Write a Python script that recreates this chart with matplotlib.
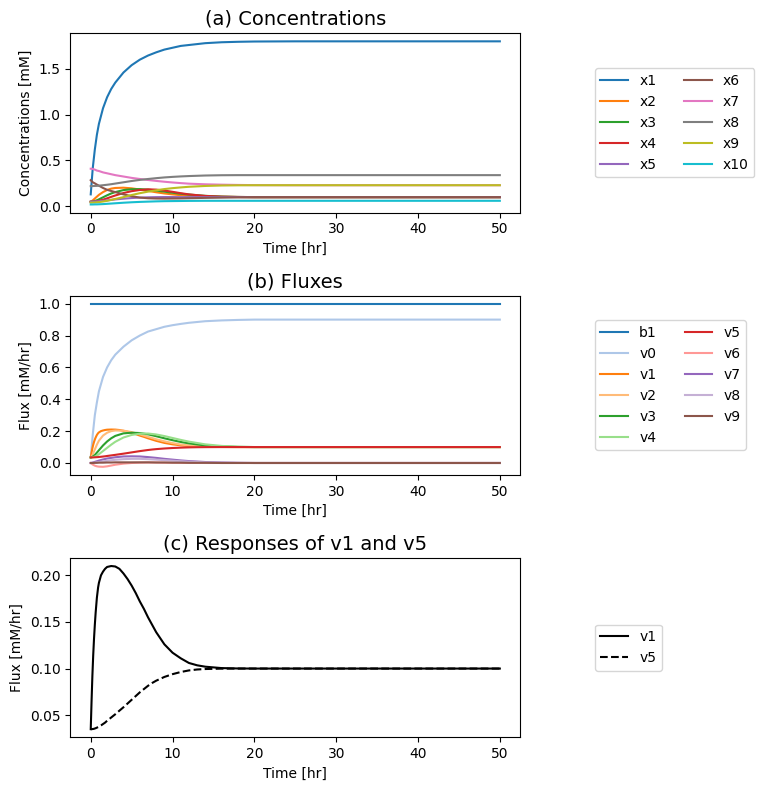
import numpy as np
from matplotlib import pyplot as plt

# sample times [hr]
t = [0, 0.1, 0.25, 0.5, 0.75, 1, 1.5, 2, 2.5, 3, 4, 5, 6, 7, 8, 9, 10, 11, 12, 14, 16, 18, 20, 25, 30, 40, 50]
# finer sampling used for v1 and v5
t_fine = [0, 0.05, 0.1, 0.2, 0.3, 0.4, 0.5, 0.6, 0.75, 0.9, 1, 1.25, 1.5, 1.75, 2, 2.5, 3, 3.5, 4, 4.5, 5, 5.5,
          6, 6.5, 7, 7.5, 8, 9, 10, 11, 12, 13, 14, 16, 18, 20, 25, 30, 40, 50]

# concentrations [mM]
x1 = [0.13, 0.25, 0.42, 0.62, 0.78, 0.90, 1.07, 1.19, 1.28, 1.35, 1.46, 1.54, 1.60, 1.645, 1.68, 1.71, 1.73, 1.75, 1.76, 1.78, 1.79, 1.795, 1.798, 1.8, 1.8, 1.8, 1.8]
x2 = [0.05, 0.055, 0.065, 0.085, 0.105, 0.125, 0.155, 0.178, 0.193, 0.2, 0.203, 0.196, 0.183, 0.168, 0.153, 0.14, 0.13, 0.121, 0.115, 0.107, 0.103, 0.101, 0.1, 0.1, 0.1, 0.1, 0.1]
x3 = [0.05, 0.05, 0.052, 0.058, 0.066, 0.076, 0.098, 0.12, 0.14, 0.155, 0.177, 0.186, 0.187, 0.182, 0.172, 0.16, 0.148, 0.137, 0.128, 0.114, 0.106, 0.102, 0.1, 0.1, 0.1, 0.1, 0.1]
x4 = [0.05, 0.05, 0.05, 0.052, 0.055, 0.06, 0.072, 0.087, 0.103, 0.118, 0.145, 0.165, 0.178, 0.185, 0.182, 0.172, 0.158, 0.143, 0.13, 0.113, 0.105, 0.102, 0.1, 0.1, 0.1, 0.1, 0.1]
x5 = [0.05, 0.05, 0.051, 0.052, 0.053, 0.055, 0.06, 0.065, 0.07, 0.075, 0.083, 0.09, 0.095, 0.098, 0.1, 0.101, 0.101, 0.1, 0.1, 0.1, 0.1, 0.1, 0.1, 0.1, 0.1, 0.1, 0.1]
x6 = [0.285, 0.275, 0.262, 0.25, 0.237, 0.225, 0.2, 0.18, 0.167, 0.155, 0.13, 0.11, 0.095, 0.088, 0.085, 0.084, 0.085, 0.086, 0.088, 0.092, 0.095, 0.098, 0.1, 0.1, 0.1, 0.1, 0.1]
x7 = [0.41, 0.41, 0.407, 0.40, 0.39, 0.385, 0.37, 0.36, 0.35, 0.34, 0.325, 0.31, 0.298, 0.287, 0.277, 0.268, 0.26, 0.253, 0.247, 0.24, 0.236, 0.233, 0.231, 0.23, 0.23, 0.23, 0.23]
x8 = [0.22, 0.22, 0.221, 0.222, 0.223, 0.225, 0.23, 0.235, 0.241, 0.248, 0.262, 0.276, 0.288, 0.298, 0.307, 0.315, 0.321, 0.326, 0.33, 0.336, 0.339, 0.34, 0.34, 0.34, 0.34, 0.34, 0.34]
x9 = [0.04, 0.04, 0.041, 0.042, 0.044, 0.046, 0.052, 0.06, 0.07, 0.08, 0.1, 0.123, 0.143, 0.16, 0.175, 0.188, 0.198, 0.206, 0.213, 0.222, 0.227, 0.229, 0.23, 0.23, 0.23, 0.23, 0.23]
x10 = [0.02, 0.02, 0.02, 0.021, 0.021, 0.022, 0.024, 0.027, 0.03, 0.033, 0.039, 0.044, 0.048, 0.051, 0.054, 0.056, 0.057, 0.058, 0.059, 0.06, 0.06, 0.06, 0.06, 0.06, 0.06, 0.06, 0.06]

# fluxes [mM/hr]
b1 = [1.0] * len(t)
v0 = [0.035, 0.09, 0.18, 0.30, 0.38, 0.45, 0.54, 0.60, 0.645, 0.68, 0.73, 0.77, 0.80, 0.825, 0.84, 0.855, 0.865, 0.873, 0.88, 0.89, 0.895, 0.898, 0.9, 0.9, 0.9, 0.9, 0.9]
v1 = [0.035, 0.05, 0.065, 0.092, 0.114, 0.132, 0.147, 0.16, 0.176, 0.187, 0.192, 0.2, 0.204, 0.207, 0.209, 0.21,
      0.2095, 0.207, 0.202, 0.196, 0.189, 0.181, 0.172, 0.164, 0.155, 0.147, 0.139, 0.126, 0.117, 0.111, 0.106,
      0.1035, 0.102, 0.1005, 0.1001, 0.1, 0.1, 0.1, 0.1, 0.1]
v2 = [0.035, 0.04, 0.055, 0.085, 0.115, 0.14, 0.172, 0.19, 0.2, 0.204, 0.203, 0.194, 0.18, 0.164, 0.149, 0.136, 0.125, 0.116, 0.11, 0.104, 0.101, 0.1, 0.1, 0.1, 0.1, 0.1, 0.1]
v3 = [0.035, 0.036, 0.04, 0.05, 0.065, 0.08, 0.11, 0.135, 0.155, 0.17, 0.186, 0.19, 0.188, 0.18, 0.168, 0.155, 0.143, 0.132, 0.123, 0.11, 0.104, 0.101, 0.1, 0.1, 0.1, 0.1, 0.1]
v4 = [0.035, 0.035, 0.036, 0.04, 0.046, 0.055, 0.075, 0.095, 0.115, 0.133, 0.16, 0.176, 0.184, 0.185, 0.179, 0.169, 0.157, 0.145, 0.134, 0.117, 0.107, 0.102, 0.1, 0.1, 0.1, 0.1, 0.1]
v5 = [0.035, 0.035, 0.035, 0.0351, 0.0352, 0.0354, 0.0357, 0.036, 0.0366, 0.0372, 0.0377, 0.039, 0.0405, 0.042,
      0.044, 0.0475, 0.051, 0.0548, 0.0585, 0.0625, 0.0665, 0.0705, 0.0745, 0.078, 0.0815, 0.0845, 0.087, 0.091,
      0.094, 0.0963, 0.098, 0.099, 0.0995, 0.0999, 0.1, 0.1, 0.1, 0.1, 0.1, 0.1]
v6 = [0.0, -0.004, -0.01, -0.017, -0.021, -0.023, -0.024, -0.021, -0.016, -0.011, -0.004, 0.0, 0.002, 0.003, 0.003, 0.002, 0.002, 0.001, 0.001, 0.0, 0.0, 0.0, 0.0, 0.0, 0.0, 0.0, 0.0]
v7 = [0.0, 0.001, 0.003, 0.007, 0.011, 0.015, 0.022, 0.028, 0.032, 0.036, 0.041, 0.042, 0.041, 0.037, 0.032, 0.026, 0.021, 0.016, 0.012, 0.006, 0.003, 0.001, 0.0, 0.0, 0.0, 0.0, 0.0]
v8 = [0.0, 0.0, 0.001, 0.002, 0.004, 0.006, 0.01, 0.014, 0.017, 0.02, 0.024, 0.026, 0.026, 0.024, 0.021, 0.018, 0.014, 0.011, 0.008, 0.004, 0.002, 0.001, 0.0, 0.0, 0.0, 0.0, 0.0]
v9 = [0.0, 0.0, 0.0, 0.001, 0.001, 0.002, 0.002, 0.003, 0.003, 0.004, 0.004, 0.004, 0.004, 0.004, 0.003, 0.003, 0.002, 0.002, 0.001, 0.001, 0.0, 0.0, 0.0, 0.0, 0.0, 0.0, 0.0]

conc = [x1, x2, x3, x4, x5, x6, x7, x8, x9, x10]
conc_names = ['x1', 'x2', 'x3', 'x4', 'x5', 'x6', 'x7', 'x8', 'x9', 'x10']
flux = [b1, v0, v1, v2, v3, v4, v5, v6, v7, v8, v9]
flux_names = ['b1', 'v0', 'v1', 'v2', 'v3', 'v4', 'v5', 'v6', 'v7', 'v8', 'v9']

fig, axes = plt.subplots(3, 1, figsize=(7.64, 7.9), dpi=100)
fig.subplots_adjust(left=0.092, right=0.681, top=0.958, bottom=0.0667, hspace=0.462)

ax = axes[0]
tab10 = plt.get_cmap('tab10')
for i, (y, name) in enumerate(zip(conc, conc_names)):
    ax.plot(t, y, color=tab10(i), label=name)
ax.set_title('(a) Concentrations', fontsize=14)
ax.set_xlabel('Time [hr]')
ax.set_ylabel('Concentrations [mM]')
ax.legend(ncol=2, loc='center left', bbox_to_anchor=(1.15, 0.5))

ax = axes[1]
tab20 = plt.get_cmap('tab20')
for i, (y, name) in enumerate(zip(flux, flux_names)):
    tt = t_fine if len(y) == len(t_fine) else t
    ax.plot(tt, y, color=tab20(i), label=name)
ax.set_title('(b) Fluxes', fontsize=14)
ax.set_xlabel('Time [hr]')
ax.set_ylabel('Flux [mM/hr]')
ax.legend(ncol=2, loc='center left', bbox_to_anchor=(1.15, 0.5))

ax = axes[2]
ax.plot(t_fine, v1, 'k-', label='v1')
ax.plot(t_fine, v5, 'k--', label='v5')
ax.set_title('(c) Responses of v1 and v5', fontsize=14)
ax.set_xlabel('Time [hr]')
ax.set_ylabel('Flux [mM/hr]')
ax.legend(loc='center left', bbox_to_anchor=(1.15, 0.5))

plt.savefig('out.png', dpi=100)
